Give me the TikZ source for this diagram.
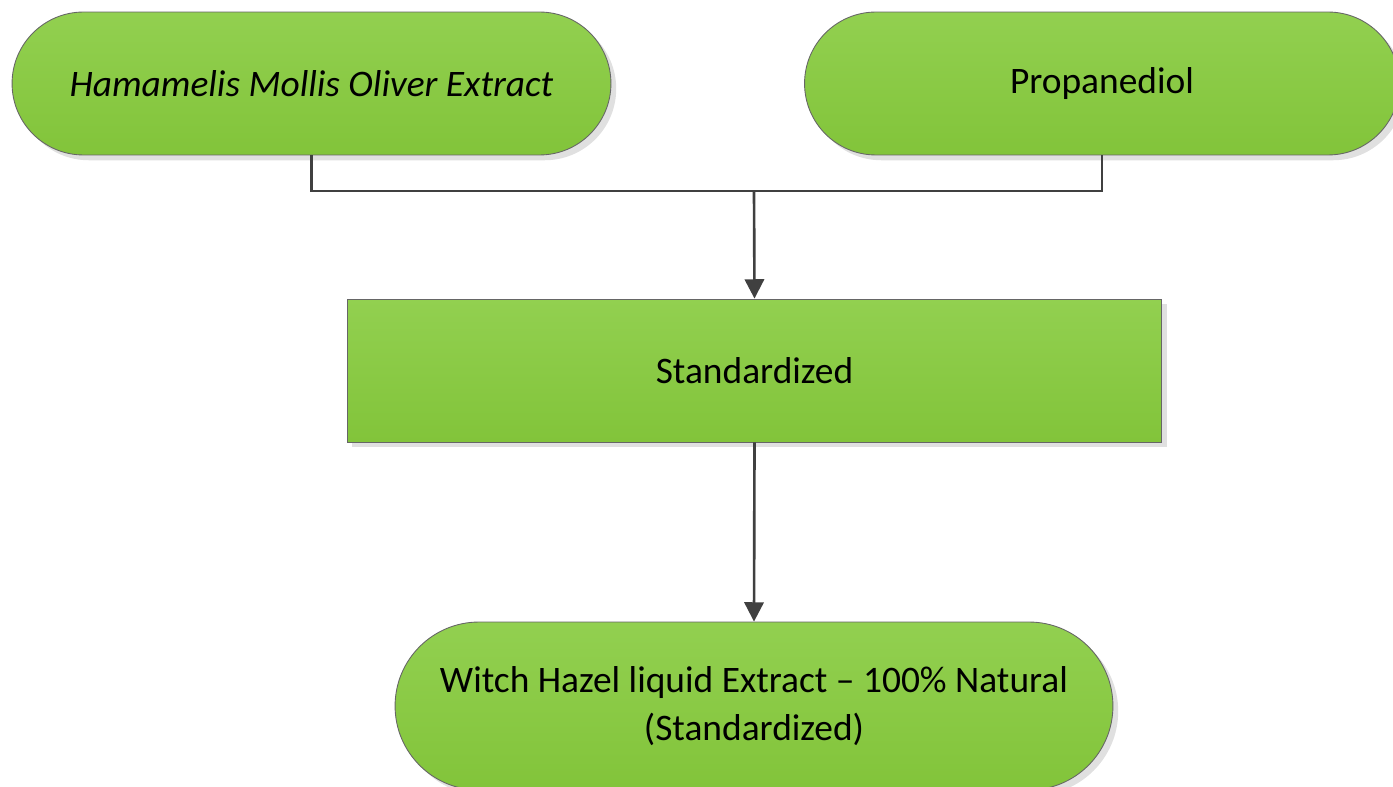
\documentclass[tikz,border=0pt]{standalone}
\usepackage{fontspec}
\setmainfont{Carlito}
\usetikzlibrary{shapes.misc, shadows, arrows.meta}

\definecolor{leafTop}{HTML}{92D050}
\definecolor{leafBottom}{HTML}{82C43A}
\definecolor{edgeGray}{HTML}{404040}

\begin{document}
\begin{tikzpicture}[
	x=0.02cm, y=-0.02cm,
	base/.style={draw=edgeGray!80, line width=0.5pt, top color=leafTop, bottom color=leafBottom,
		drop shadow={shadow xshift=3pt, shadow yshift=-3pt, fill=black!12, opacity=1},
		font=\fontsize{21.3}{27}\selectfont, align=center, inner sep=0pt},
	terminal/.style={base, rounded rectangle, minimum height=2.86cm},
	process/.style={base, rectangle, minimum height=2.86cm},
	flow/.style={draw=edgeGray, line width=1.5pt},
	arrow/.style={flow, -{Triangle[length=11pt, width=11pt]}}
]
	\useasboundingbox (0,0) rectangle (1393,787);

	% inputs
	\node [terminal, minimum width=11.98cm] (hamamelis) at (311.5,83.5) {\textit{Hamamelis Mollis Oliver Extract}};
	\node [terminal, minimum width=11.9cm] (propanediol) at (1102,83.5) {Propanediol};

	% processing step
	\node [process, minimum width=16.3cm] (standard) at (754.5,370.5) {Standardized};

	% final product
	\node [terminal, minimum width=14.36cm, minimum height=3.36cm] (product) at (754,706) {Witch Hazel liquid Extract -- 100\% Natural\\(Standardized)};

	% connectors
	\coordinate (join) at (754,191);
	\draw [flow] (hamamelis.south) |- (join) -| (propanediol.south);
	\draw [arrow] (join) -- (standard.north);
	\draw [arrow] (standard.south) -- (product.north);
\end{tikzpicture}
\end{document}
